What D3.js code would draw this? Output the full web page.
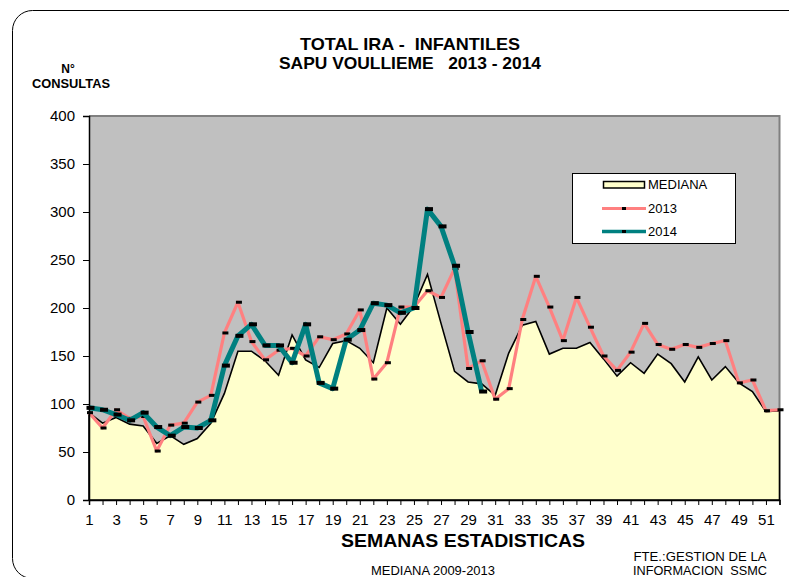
<!DOCTYPE html>
<html><head><meta charset="utf-8">
<script src="https://cdn.jsdelivr.net/npm/d3@7"></script>
<style>
html,body{margin:0;padding:0;background:#fff;}
svg{display:block;font-family:"Liberation Sans",Arial,sans-serif;}
svg text{white-space:pre;}
</style></head>
<body>
<svg id="c" width="789" height="577"></svg>
<script>
const weeks = d3.range(1, 53);
const mediana = [91,80,86,79,77,59,67,58,64,80,111,155,155,145,130,172,146,138,163,166,158,143,200,183,202,235,184,134,123,121,109,153,182,186,152,158,158,164,147,129,143,132,152,142,123,149,125,139,122,113,92,93];
const s2013 = [91,75,94,85,87,51,78,80,102,109,174,206,165,146,156,158,150,170,167,173,198,126,143,201,201,218,211,241,137,145,105,116,188,233,201,166,211,180,150,135,154,184,162,157,162,159,163,166,122,125,93,94];
const s2014 = [96,94,89,83,91,76,67,76,75,83,140,171,183,161,161,143,183,122,116,167,177,205,203,195,200,303,285,244,175,113];
const yTicks = [0,50,100,150,200,250,300,350,400];
const xTickLabels = weeks.filter(w => w % 2 === 1);
const titleLines = ["TOTAL IRA -  INFANTILES", "SAPU VOULLIEME   2013 - 2014"];

const svg = d3.select("#c");
const L = 89, R = 779.5, T = 116, B = 500;
const x = d3.scalePoint().domain(weeks).range([L, R]);
const y = d3.scaleLinear().domain([0, 400]).range([B, T]);

// outer rounded frame
svg.append("rect").attr("x", 12.5).attr("y", 10.5).attr("width", 820).attr("height", 568)
  .attr("rx", 20).attr("fill", "#fff").attr("stroke", "#000").attr("stroke-width", 1);

// plot background
svg.append("rect").attr("x", L).attr("y", T).attr("width", R - L).attr("height", B - T)
  .attr("fill", "#C0C0C0");
svg.append("path").attr("d", `M${L},${T}H${R}V${B}`).attr("fill", "none")
  .attr("stroke", "#808080").attr("stroke-width", 2);

// mediana area
const area = d3.area().x((d, i) => x(weeks[i])).y0(y(0)).y1(d => y(d));
svg.append("path").datum(mediana).attr("d", area).attr("fill", "#FFFFCC")
  .attr("stroke", "#000").attr("stroke-width", 1.6).attr("stroke-linejoin", "miter");

const line = d3.line().x((d, i) => x(weeks[i])).y(d => y(d));
svg.append("path").datum(s2013).attr("d", line).attr("fill", "none")
  .attr("stroke", "#FF8080").attr("stroke-width", 3.2).attr("stroke-linejoin", "round");
svg.selectAll(".m13").data(s2013).enter().append("rect")
  .attr("x", (d, i) => x(weeks[i]) - 2).attr("y", d => y(d) - 1.5)
  .attr("width", 6).attr("height", 3).attr("fill", "#000");

svg.append("path").datum(s2014).attr("d", line).attr("fill", "none")
  .attr("stroke", "#008080").attr("stroke-width", 5).attr("stroke-linejoin", "round");
svg.selectAll(".m14").data(s2014).enter().append("rect")
  .attr("x", (d, i) => x(weeks[i]) - 2.5).attr("y", d => y(d) - 2)
  .attr("width", 8).attr("height", 4).attr("fill", "#000");

// axes
const yAxis = d3.axisLeft(y).tickValues(yTicks).tickSize(6).tickPadding(8);
const gy = svg.append("g").attr("transform", `translate(${L},0)`).call(yAxis);
gy.select(".domain").attr("stroke", "#000").attr("stroke-width", 1.5);
gy.selectAll("text").attr("font-size", 15).attr("fill", "#000")
  .attr("font-family", "'Liberation Sans',Arial,sans-serif");

const xAxis = d3.axisBottom(x).tickValues(weeks).tickSize(5).tickPadding(9)
  .tickFormat(w => xTickLabels.includes(w) ? String(w) : "");
const gx = svg.append("g").attr("transform", `translate(0,${B})`).call(xAxis);
gx.select(".domain").attr("stroke", "#000").attr("stroke-width", 1.5);
gx.selectAll("text").attr("font-size", 15).attr("fill", "#000")
  .attr("font-family", "'Liberation Sans',Arial,sans-serif");

// titles
const ff = "'Liberation Sans',Arial,sans-serif";
function txt(xp, yp, s, size, bold, len) {
  const t = svg.append("text").attr("x", xp).attr("y", yp).attr("text-anchor", "middle")
    .attr("font-size", size).attr("font-family", ff).text(s);
  if (bold) t.attr("font-weight", "bold");
  if (len) t.attr("textLength", len).attr("lengthAdjust", "spacingAndGlyphs");
  return t;
}
txt(410, 50, titleLines[0], 17, true, 220);
txt(410, 69, titleLines[1], 17, true, 262);
txt(68, 73, "N°", 12, true);
txt(71, 88, "CONSULTAS", 12, true, 78);
txt(463, 547, "SEMANAS ESTADISTICAS", 18, true, 244);
txt(433, 575, "MEDIANA 2009-2013", 13, false, 124);
txt(700, 561, "FTE.:GESTION DE LA", 13, false, 133);
txt(700, 575, "INFORMACION  SSMC", 13, false, 134);

// legend
const lg = svg.append("g");
lg.append("rect").attr("x", 572.5).attr("y", 173.5).attr("width", 163).attr("height", 70)
  .attr("fill", "#fff").attr("stroke", "#000").attr("stroke-width", 1);
lg.append("rect").attr("x", 603.5).attr("y", 181.5).attr("width", 41).attr("height", 6.5)
  .attr("fill", "#FFFFCC").attr("stroke", "#000").attr("stroke-width", 1.5);
lg.append("line").attr("x1", 602).attr("x2", 646).attr("y1", 208.5).attr("y2", 208.5)
  .attr("stroke", "#FF8080").attr("stroke-width", 3);
lg.append("rect").attr("x", 622).attr("y", 207).attr("width", 4).attr("height", 3).attr("fill", "#000");
lg.append("line").attr("x1", 602).attr("x2", 646).attr("y1", 231.5).attr("y2", 231.5)
  .attr("stroke", "#008080").attr("stroke-width", 3.5);
lg.append("rect").attr("x", 622).attr("y", 230).attr("width", 4).attr("height", 3).attr("fill", "#000");
const legendNames = ["MEDIANA", "2013", "2014"];
[189, 213, 236].forEach((yy, i) => {
  lg.append("text").attr("x", 648).attr("y", yy).attr("font-size", 13).text(legendNames[i]);
});
</script>
</body></html>
